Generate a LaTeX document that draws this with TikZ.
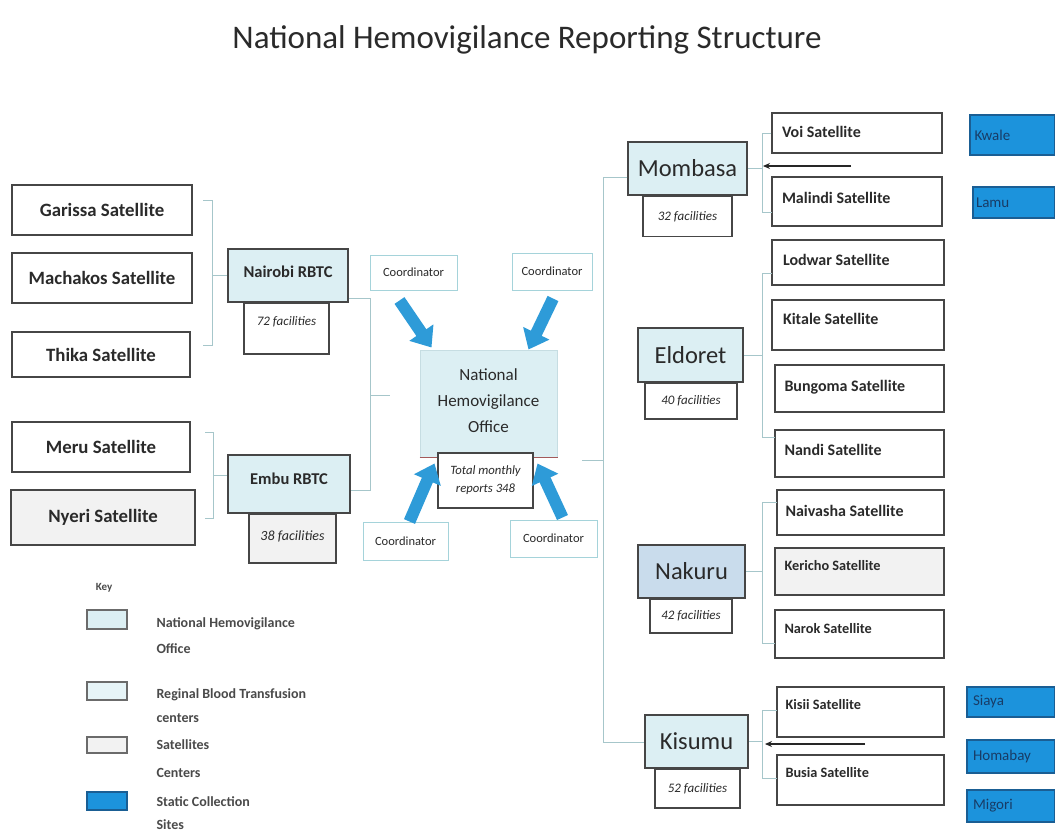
\documentclass[tikz,border=0pt]{standalone}
\usepackage{fontspec}
\setmainfont{Carlito}
\usetikzlibrary{arrows.meta,calc}

\definecolor{hubfill}{HTML}{DCEFF3}
\definecolor{nakfill}{HTML}{C9DCEC}
\definecolor{grayfill}{HTML}{F2F2F2}
\definecolor{boxline}{HTML}{464646}
\definecolor{brkline}{HTML}{A6C6CA}
\definecolor{siteblue}{HTML}{1C93DC}
\definecolor{siteline}{HTML}{1A5E94}
\definecolor{arrowblue}{HTML}{2E9BD8}
\definecolor{coordline}{HTML}{A5D3DA}
\definecolor{sitetext}{HTML}{183C66}
\definecolor{txt}{HTML}{2A2A2A}
\definecolor{nholine}{HTML}{C6DDE2}
\definecolor{redline}{HTML}{A35A5A}

\newcommand{\fsz}[2]{\fontsize{#1pt}{#2pt}\selectfont}

\begin{document}
\begin{tikzpicture}[x=1pt,y=-1pt,
  box/.style={draw=boxline, line width=1.5pt, inner sep=0pt, align=center, text=txt},
  lsat/.style={box, fill=white, font=\fsz{18.8}{22}\bfseries},
  rsat/.style={box, fill=white, align=flush left, text width=150pt, font=\fsz{16}{18}\bfseries},
  rsats/.style={rsat, font=\fsz{14.3}{16}\bfseries},
  hub/.style={box, fill=hubfill, font=\fsz{24.5}{28}},
  rbtc/.style={box, fill=hubfill, font=\fsz{16.5}{19}\bfseries},
  count/.style={box, fill=white, anchor=north, font=\fsz{13}{15}\itshape},
  coord/.style={draw=coordline, line width=1pt, fill=white, inner sep=0pt, text=txt, font=\fsz{12.5}{14}},
  site/.style={draw=siteline, line width=1.2pt, fill=siteblue, inner sep=0pt, align=flush left,
    text width=76pt, text=sitetext, font=\fsz{15}{17}},
  brk/.style={draw=brkline, line width=0.9pt},
  flow/.style={draw=arrowblue, line width=12pt, -{Triangle[length=18pt,width=28pt]}},
  feed/.style={draw=black!85, line width=1.1pt, -{Stealth[length=7pt,width=6pt]}},
  swatch/.style={draw=boxline!80, line width=1.3pt, minimum width=40pt, inner sep=0pt},
  keytext/.style={anchor=west, align=flush left, text=txt!85, font=\fsz{14}{26}\bfseries}
]
\useasboundingbox (0,0) rectangle (1055,836);
\fill[white] (0,0) rectangle (1055,836);

% title
\node[text=txt, font=\fsz{33}{37}] (title) at (527,40) {National Hemovigilance Reporting Structure};

% ---------------- left branch: satellites feeding the RBTCs
\node[lsat, minimum width=180, minimum height=50] (garissa)  at (102,210)   {Garissa Satellite};
\node[lsat, minimum width=180, minimum height=50] (machakos) at (102,278)   {Machakos Satellite};
\node[lsat, minimum width=178, minimum height=45] (thika)    at (101,354.5) {Thika Satellite};
\node[lsat, minimum width=178, minimum height=50] (meru)     at (101,447)   {Meru Satellite};
\node[lsat, fill=grayfill, minimum width=184, minimum height=55] (nyeri) at (103,517.5) {Nyeri Satellite};

\node[rbtc, minimum width=120, minimum height=53, text depth=8pt] (nairobi) at (288,275.5) {Nairobi RBTC};
\node[count, minimum width=85, minimum height=51, text depth=14pt] (nairobin) at (286.5,302) {72 facilities};
\node[rbtc, minimum width=122, minimum height=58, text depth=10pt] (embu) at (289,484) {Embu RBTC};
\node[count, fill=grayfill, minimum width=87, minimum height=49, text depth=6pt, font=\fsz{14}{16}\itshape] (embun) at (292.5,513) {38 facilities};

% braces grouping the left satellites
\draw[brk] (203,200) -- (212,200) -- (212,345) -- (203,345);
\coordinate (nbtick) at (212,275.5);
\draw[brk] (nbtick) -- (nairobi.west);
\draw[brk] (205,432) -- (213,432) -- (213,518) -- (205,518);
\coordinate (embtick) at (213,475);
\draw[brk] (embtick) -- (embtick -| embu.west);

% brace joining the two RBTCs towards the national office
\coordinate (mb1) at (370,298);
\coordinate (mb2) at (370,490);
\coordinate (mbmid) at (370,395);
\coordinate (mbtip) at (390,395);
\draw[brk] (mb1 -| nairobi.east) -- (mb1) -- (mb2) -- (mb2 -| embu.east);
\draw[brk] (mbmid) -- (mbtip);

% ---------------- national office
\node[draw=nholine, line width=1pt, fill=hubfill, minimum width=137, minimum height=107,
      inner sep=0pt, align=center, text=txt, font=\fsz{17}{26}, text depth=6pt] (nho) at (488.5,403.5)
      {National\\Hemovigilance\\Office};
\draw[redline, line width=1.2pt] (nho.south west) -- (nho.south east);
\node[box, fill=white, minimum width=95, minimum height=55, font=\fsz{12.7}{18}\itshape] (total) at (485.5,480.5)
      {Total monthly\\reports 348};

% coordinators and their reporting arrows
\node[coord, minimum width=87, minimum height=35] (ctl) at (413.5,272.5) {Coordinator};
\node[coord, minimum width=80, minimum height=37] (ctr) at (552,271.5)   {Coordinator};
\node[coord, minimum width=85, minimum height=38] (cbl) at (405.5,541)   {Coordinator};
\node[coord, minimum width=87, minimum height=37] (cbr) at (553.5,538.5) {Coordinator};

\draw[flow] ($(ctl.south)+(-14,10)$) -- ($(nho.north west)+(12,-2)$);
\draw[flow] ($(ctr.south)+(1,8)$)    -- ($(nho.north east)+(-29,0)$);
\draw[flow] ($(cbl.north)+(4,0)$)    -- ($(nho.south west)+(15,6)$);
\draw[flow] ($(cbr.north)+(9,-2)$)   -- ($(nho.south east)+(-20,6)$);

% ---------------- right branch: regional centres
\node[hub, minimum width=119, minimum height=53] (mombasa) at (687.5,168.5) {Mombasa};
\node[count, minimum width=89, minimum height=40] (mombasan) at (mombasa.south) {32 facilities};
\node[hub, minimum width=105, minimum height=54] (eldoret) at (690.5,355) {Eldoret};
\node[count, minimum width=92, minimum height=36] (eldoretn) at (691,382) {40 facilities};
\node[hub, fill=nakfill, minimum width=107, minimum height=53] (nakuru) at (691.5,571.5) {Nakuru};
\node[count, minimum width=82, minimum height=34] (nakurun) at (691,598) {42 facilities};
\node[hub, minimum width=103, minimum height=53] (kisumu) at (696.5,741.5) {Kisumu};
\node[count, minimum width=85, minimum height=39] (kisumun) at (697.5,768) {52 facilities};

% brace from the national office to the regional centres
\coordinate (rb1) at (603,177);
\coordinate (rb2) at (603,742);
\coordinate (rbmid) at (603,460);
\coordinate (rbtip) at (582,460);
\draw[brk] (rb1 -| mombasa.west) -- (rb1) -- (rb2) -- (rb2 -| kisumu.west);
\draw[brk] (rbmid) -- (rbtip);

% satellites of the regional centres
\node[rsat, minimum width=170, minimum height=40, text depth=3pt] (voi)     at (857,133)   {Voi Satellite};
\node[rsat, minimum width=170, minimum height=49, text depth=8pt] (malindi) at (857,201.5) {Malindi Satellite};
\node[rsat, minimum width=172, minimum height=45, text depth=6pt] (lodwar)  at (858,262.5) {Lodwar Satellite};
\node[rsat, minimum width=172, minimum height=50, text depth=12pt] (kitale) at (858,325)   {Kitale Satellite};
\node[rsat, minimum width=169, minimum height=47, text depth=5pt] (bungoma) at (859.5,388.5) {Bungoma Satellite};
\node[rsat, minimum width=169, minimum height=47, text depth=7pt] (nandi)   at (859.5,453.5) {Nandi Satellite};
\node[rsat, minimum width=167, minimum height=45, text depth=4pt] (naivasha) at (860.5,512.5) {Naivasha Satellite};
\node[rsats, fill=grayfill, minimum width=169, minimum height=47, text depth=12pt] (kericho) at (859.5,571.5) {Kericho Satellite};
\node[rsats, minimum width=169, minimum height=48, text depth=12pt] (narok) at (859.5,634) {Narok Satellite};
\node[rsats, minimum width=167, minimum height=50, text depth=15pt] (kisii) at (860.5,712) {Kisii Satellite};
\node[rsats, minimum width=167, minimum height=50, text depth=15pt] (busia) at (860.5,780) {Busia Satellite};

% braces grouping the satellites of each centre
\draw[brk] (voi.west) -- (762,133) -- (762,212) -- (772,212);
\coordinate (mtick) at (762,168.5);
\draw[brk] (mtick) -- (mombasa.east);
\draw[brk] (772,273) -- (762,273) -- (762,437) -- (775,437);
\coordinate (etick) at (762,355);
\draw[brk] (etick) -- (eldoret.east);
\draw[brk] (777,502) -- (762,502) -- (762,643) -- (775,643);
\coordinate (ntick) at (762,571.5);
\draw[brk] (ntick) -- (nakuru.east);
\draw[brk] (777,710) -- (762,710) -- (762,778) -- (777,778);
\coordinate (ktick) at (762,741.5);
\draw[brk] (ktick) -- (kisumu.east);

% static collection sites
\node[site, minimum width=85, minimum height=40] (kwale)   at (1012.5,135) {Kwale};
\node[site, minimum width=82, minimum height=31] (lamu)    at (1014,202.5) {Lamu};
\node[site, minimum width=88, minimum height=30] (siaya)   at (1011,702)   {Siaya};
\node[site, minimum width=88, minimum height=33] (homabay) at (1011,756.5) {Homabay};
\node[site, minimum width=88, minimum height=32] (migori)  at (1011,806)   {Migori};

% feeds from the collection sites into Mombasa and Kisumu
\coordinate (mfeed) at (851,166);
\coordinate (mfeedend) at (763,166);
\draw[feed] (mfeed) -- (mfeedend);
\coordinate (kfeed) at (865,744);
\coordinate (kfeedend) at (765,744);
\draw[feed] (kfeed) -- (kfeedend);

% ---------------- key
\node[text=txt!85, font=\fsz{11}{13}\bfseries] (keyhead) at (104,588) {Key};
\node[swatch, fill=hubfill, minimum height=19] (k1) at (107,619.5) {};
\node[swatch, fill=hubfill!70, minimum height=18] (k2) at (107,691) {};
\node[swatch, fill=grayfill, minimum height=16] (k3) at (107,745) {};
\node[swatch, draw=siteline, fill=siteblue, minimum height=18] (k4) at (107,801) {};
\node[keytext] (k1t) at (153,635.5) {National Hemovigilance\\Office};
\node[keytext, font=\fsz{14}{24}\bfseries] (k2t) at (153,706) {Reginal Blood Transfusion\\centers};
\node[keytext, font=\fsz{14}{28}\bfseries] (k3t) at (153,759) {Satellites\\Centers};
\node[keytext, font=\fsz{14}{23}\bfseries] (k4t) at (153,813) {Static Collection\\Sites};
\end{tikzpicture}
\end{document}
